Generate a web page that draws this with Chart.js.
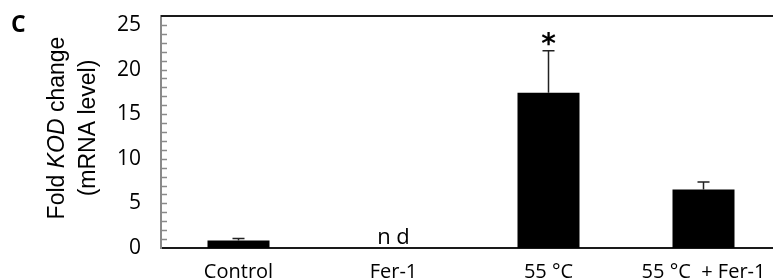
<!DOCTYPE html>
<html><head><meta charset="utf-8">
<script src="https://cdn.jsdelivr.net/npm/chart.js@4/dist/chart.umd.min.js"></script>
<style>html,body{margin:0;padding:0;background:#fff;overflow:hidden;width:773px;height:279px}
#wrap{position:relative;width:800px;height:279px}</style>
</head><body><div id="wrap"><canvas id="c" width="800" height="279"></canvas></div>
<script>
const categories = ["Control", "Fer-1", "55 °C", "55 °C  + Fer-1"];
const means = [0.85, null, 17.4, 6.55];
const errorTops = [1.07, null, 22.1, 7.4];
const marks = ["", "n d", "*", ""];
const yTickLabels = [0, 5, 10, 15, 20, 25];

const decor = {
  id: 'decor',
  afterDatasetsDraw(chart) {
    const ctx = chart.ctx, x = chart.scales.x, y = chart.scales.y, a = chart.chartArea;
    ctx.save();
    ctx.strokeStyle = '#8a8a8a'; ctx.lineWidth = 1.5;
    for (let v = 1; v <= 25; v++) {
      const py = Math.round(y.getPixelForValue(v)) + 0.5;
      ctx.beginPath(); ctx.moveTo(a.left, py); ctx.lineTo(a.left + 6, py); ctx.stroke();
    }
    ctx.strokeStyle = '#1a1a1a'; ctx.lineWidth = 2;
    ctx.beginPath(); ctx.moveTo(a.left, a.top); ctx.lineTo(a.right, a.top); ctx.stroke();
    ctx.strokeStyle = '#222'; ctx.lineWidth = 1.5;
    categories.forEach((c, i) => {
      if (means[i] == null) return;
      const px = x.getPixelForValue(i);
      const y0 = y.getPixelForValue(means[i]), y1 = y.getPixelForValue(errorTops[i]);
      ctx.beginPath(); ctx.moveTo(px, y0); ctx.lineTo(px, y1);
      ctx.moveTo(px - 6, y1); ctx.lineTo(px + 6, y1); ctx.stroke();
    });
    ctx.fillStyle = '#000'; ctx.textAlign = 'center';
    categories.forEach((c, i) => {
      const m = marks[i]; if (!m) return;
      const px = x.getPixelForValue(i);
      if (m === '*') {
        ctx.font = 'bold 28px "DejaVu Sans"'; ctx.textBaseline = 'middle';
        ctx.fillText(m, px, y.getPixelForValue(errorTops[i]) - 5);
      } else {
        ctx.font = '22px "Open Sans"'; ctx.textBaseline = 'alphabetic';
        ctx.fillText(m, px, y.getPixelForValue(0) - 4);
      }
    });
    ctx.font = 'bold 23px "Open Sans"'; ctx.textAlign = 'left'; ctx.textBaseline = 'alphabetic';
    ctx.fillText('C', 11, 32);
    ctx.save();
    ctx.translate(58, 128); ctx.rotate(-Math.PI / 2);
    ctx.textBaseline = 'middle';
    const f1 = '23px "Liberation Sans"', f2 = 'italic 23px "Liberation Sans"';
    const parts = [['Fold ', f1], ['KOD', f2], [' change', f1]];
    let tw = 0; parts.forEach(p => { ctx.font = p[1]; tw += ctx.measureText(p[0]).width; });
    let cx = -tw / 2; ctx.textAlign = 'left';
    parts.forEach(p => { ctx.font = p[1]; ctx.fillText(p[0], cx, 0); cx += ctx.measureText(p[0]).width; });
    ctx.restore();
    ctx.save();
    ctx.translate(89, 128); ctx.rotate(-Math.PI / 2);
    ctx.textBaseline = 'middle'; ctx.textAlign = 'center'; ctx.font = '23px "Liberation Sans"';
    ctx.fillText('(mRNA level)', 0, 0);
    ctx.restore();
    ctx.restore();
  }
};

new Chart(document.getElementById('c'), {
  type: 'bar',
  data: { labels: categories, datasets: [{ data: means, backgroundColor: '#000', borderWidth: 0,
    categoryPercentage: 1, barPercentage: 0.4 }] },
  options: {
    responsive: false, animation: false,
    layout: { padding: { top: 16, right: 19, left: 0, bottom: 0 } },
    plugins: { legend: { display: false }, tooltip: { enabled: false } },
    scales: {
      x: {
        grid: { display: false },
        border: { display: true, color: '#1a1a1a', width: 2 },
        ticks: { color: '#000', font: { family: 'Open Sans', size: 20 }, padding: 4, maxRotation: 0, autoSkip: false },
        afterFit(s) { s.height = 279 - 248; s.paddingLeft = 0; s.paddingRight = 0; }
      },
      y: {
        min: 0, max: 26,
        afterBuildTicks(s) { s.ticks = yTickLabels.map(v => ({ value: v })); },
        grid: { display: false },
        border: { display: true, color: '#8a8a8a', width: 2 },
        ticks: { color: '#000', font: { family: 'Open Sans', size: 21 }, padding: 12 },
        afterFit(s) { s.width = 161; s.paddingTop = 0; s.paddingBottom = 0; }
      }
    }
  },
  plugins: [decor]
});
</script></body></html>
